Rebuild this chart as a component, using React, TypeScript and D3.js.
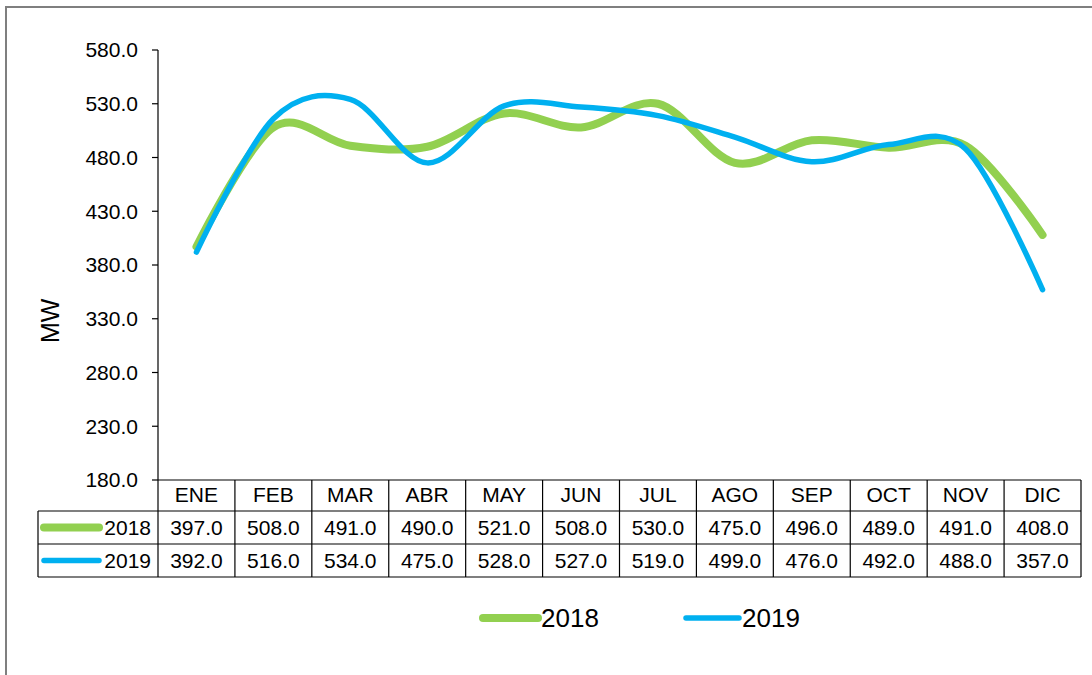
import React from "react";
import * as d3 from "d3";

const months = ["ENE", "FEB", "MAR", "ABR", "MAY", "JUN", "JUL", "AGO", "SEP", "OCT", "NOV", "DIC"];
const values2018 = [397, 508, 491, 490, 521, 508, 530, 475, 496, 489, 491, 408];
const values2019 = [392, 516, 534, 475, 528, 527, 519, 499, 476, 492, 488, 357];
const yTicks = [180, 230, 280, 330, 380, 430, 480, 530, 580];
const seriesNames = ["2018", "2019"];
const seriesColors = ["#92D050", "#00B0F0"];
const seriesWidths = [8, 5.5];

export default function App() {
  const W = 1092, H = 675;
  const left = 158, right = 1081, top = 50, bottom = 480;
  const x = d3.scaleBand<string>().domain(months).range([left, right]);
  const y = d3.scaleLinear().domain([180, 580]).range([bottom, top]);
  const line = d3
    .line<number>()
    .x((_, i) => (x(months[i]) as number) + x.bandwidth() / 2)
    .y((d) => y(d))
    .curve(d3.curveCatmullRom.alpha(0));
  const series = [values2018, values2019];
  const rowTop = [511, 544];
  const rowH = 33;
  const tableLeft = 38;
  const font = "Liberation Sans, Arial, sans-serif";
  const fs = 21;

  return (
    <svg width={W} height={H} style={{ position: "absolute", left: 0, top: 0, background: "#fff" }} fontFamily={font}>
      <rect x={6} y={7} width={1200} height={800} fill="none" stroke="#7f7f7f" strokeWidth={2} />
      {/* y axis */}
      <line x1={left} x2={left} y1={top} y2={bottom} stroke="#000" strokeWidth={1.2} />
      {yTicks.map((t) => (
        <g key={t}>
          <line x1={left - 6} x2={left} y1={y(t)} y2={y(t)} stroke="#000" strokeWidth={1.2} />
          <text x={138} y={y(t)} dy="0.35em" textAnchor="end" fontSize={fs} fill="#000">
            {t.toFixed(1)}
          </text>
        </g>
      ))}
      <text transform={`translate(59,${y(330) + 2}) rotate(-90)`} textAnchor="middle" fontSize={25} fill="#000">
        MW
      </text>
      {/* lines */}
      {series.map((s, k) => (
        <path key={k} d={line(s) || ""} fill="none" stroke={seriesColors[k]} strokeWidth={seriesWidths[k]} strokeLinecap="round" strokeLinejoin="round" />
      ))}
      {/* table */}
      <line x1={left} x2={right} y1={bottom} y2={bottom} stroke="#000" strokeWidth={1.2} />
      {[...rowTop, rowTop[1] + rowH].map((yy, i) => (
        <line key={i} x1={tableLeft} x2={right} y1={yy} y2={yy} stroke="#000" strokeWidth={1.2} />
      ))}
      <line x1={tableLeft} x2={tableLeft} y1={rowTop[0]} y2={rowTop[1] + rowH} stroke="#000" strokeWidth={1.2} />
      {months.map((m) => (
        <line key={m} x1={(x(m) as number) + x.bandwidth()} x2={(x(m) as number) + x.bandwidth()} y1={bottom} y2={rowTop[1] + rowH} stroke="#000" strokeWidth={1.2} />
      ))}
      <line x1={left} x2={left} y1={bottom} y2={rowTop[1] + rowH} stroke="#000" strokeWidth={1.2} />
      {months.map((m) => (
        <text key={m} x={(x(m) as number) + x.bandwidth() / 2} y={(bottom + rowTop[0]) / 2 - 1} dy="0.35em" textAnchor="middle" fontSize={fs} fill="#000">
          {m}
        </text>
      ))}
      {series.map((s, k) => (
        <g key={k}>
          <line x1={44} x2={99} y1={rowTop[k] + rowH / 2} y2={rowTop[k] + rowH / 2} stroke={seriesColors[k]} strokeWidth={seriesWidths[k]} strokeLinecap="round" />
          <text x={151} y={rowTop[k] + rowH / 2} dy="0.35em" textAnchor="end" fontSize={fs} fill="#000">
            {seriesNames[k]}
          </text>
          {s.map((v, i) => (
            <text key={i} x={(x(months[i]) as number) + x.bandwidth() / 2} y={rowTop[k] + rowH / 2} dy="0.35em" textAnchor="middle" fontSize={fs} fill="#000">
              {v.toFixed(1)}
            </text>
          ))}
        </g>
      ))}
      {/* legend */}
      {[
        { x0: 483, x1: 538, tx: 541 },
        { x0: 686, x1: 739, tx: 742 },
      ].map((p, k) => (
        <g key={k}>
          <line x1={p.x0} x2={p.x1} y1={618} y2={618} stroke={seriesColors[k]} strokeWidth={seriesWidths[k]} strokeLinecap="round" />
          <text x={p.tx} y={618} dy="0.35em" fontSize={26} fill="#000">
            {seriesNames[k]}
          </text>
        </g>
      ))}
    </svg>
  );
}
